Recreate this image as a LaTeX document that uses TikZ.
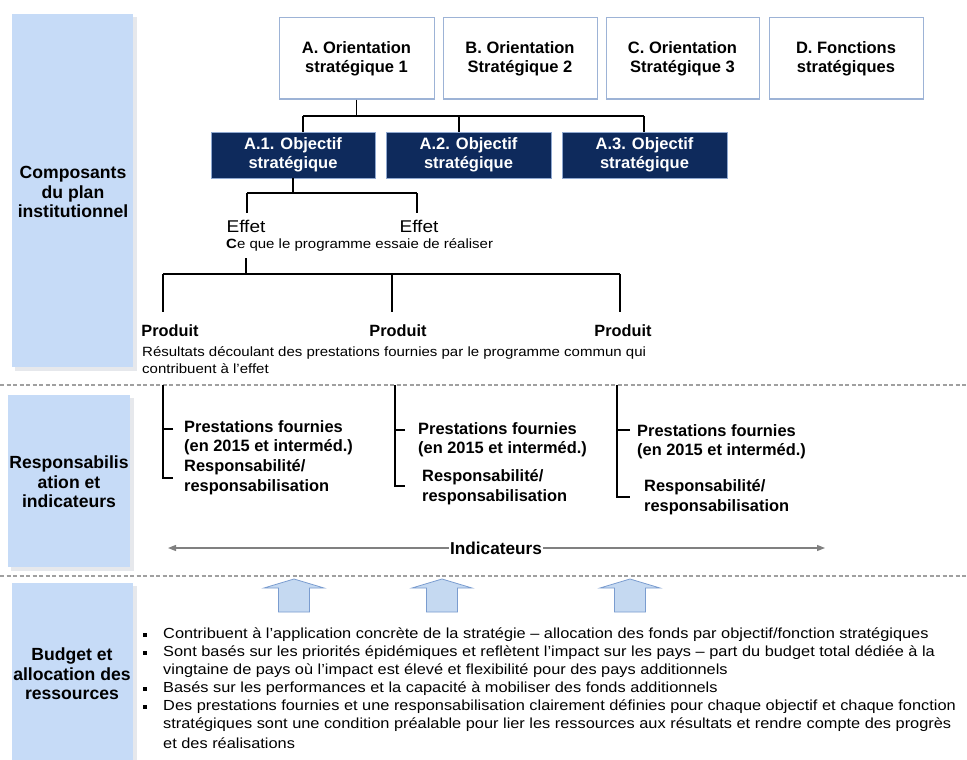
\documentclass[tikz,border=0pt]{standalone}
\usepackage{fontspec}
\setmainfont{Liberation Sans}
\newfontfamily\widefont[FakeStretch=1.12]{Liberation Sans}
\usetikzlibrary{arrows.meta}
\definecolor{panel}{HTML}{C6DBF7}
\definecolor{panelshadow}{HTML}{E6E8EC}
\definecolor{topborder}{HTML}{9DB3D6}
\definecolor{navy}{HTML}{0E2A5C}
\definecolor{navyborder}{HTML}{8FA8D0}
\definecolor{dashgray}{HTML}{A0A0A0}
\definecolor{indgray}{HTML}{808080}
\definecolor{arrowfill}{HTML}{C5D9F1}
\definecolor{arrowdraw}{HTML}{7A9CCF}
\begin{document}
\begin{tikzpicture}[x=1pt,y=-1pt,
  panelbox/.style={fill=panel, draw=none},
  shadowbox/.style={fill=panelshadow, draw=none},
  topbox/.style={draw=topborder, line width=1pt, fill=white, minimum height=81pt, inner sep=0pt,
    align=center, font=\fontsize{16.5}{19}\selectfont\bfseries},
  navybox/.style={fill=navy, draw=navyborder, line width=0.8pt, text=white, minimum height=46pt,
    inner sep=0pt, align=center, font=\fontsize{16.5}{19}\selectfont\bfseries},
  conn/.style={draw=black, line width=1.3pt},
  sidelbl/.style={align=center, inner sep=0pt, font=\fontsize{17.6}{19.5}\selectfont\bfseries},
  efftxt/.style={inner sep=0pt, font=\widefont\fontsize{17}{20}\selectfont},
  smalltxt/.style={inner sep=0pt, align=left, font=\widefont\fontsize{13.4}{17}\selectfont},
  prodtxt/.style={inner sep=0pt, font=\fontsize{16.3}{20}\selectfont\bfseries},
  indtxt/.style={inner sep=0pt, inner xsep=1pt, font=\fontsize{17.2}{20}\selectfont\bfseries},
  bracktxt/.style={inner sep=0pt, align=left, anchor=west, font=\fontsize{16.4}{19.5}\selectfont\bfseries},
  divider/.style={draw=dashgray, line width=1.3pt, dash pattern=on 4pt off 2.5pt},
  garrow/.style={draw=indgray, line width=1.3pt, -{Triangle[length=8pt,width=6pt]}},
  blockarrow/.style={fill=arrowfill, draw=arrowdraw, line width=0.8pt},
  bullettxt/.style={inner sep=0pt, anchor=west, font=\widefont\fontsize{14.6}{18}\selectfont},
  bulletmark/.style={fill=black, draw=none, minimum size=4pt, inner sep=0pt}
]
\useasboundingbox (0,0) rectangle (967,760);
\fill[white] (0,0) rectangle (967,760);

% left panels
\fill[shadowbox] (15,17) rectangle (137,371);
\fill[panelbox] (12,14) rectangle (133,367);
\fill[shadowbox] (11,398) rectangle (134,571);
\fill[panelbox] (8,395) rectangle (130,567);
\fill[shadowbox] (15,586) rectangle (137,770);
\fill[panelbox] (12,583) rectangle (133,770);

\node[sidelbl] (lab1) at (73,192) {Composants\\du plan\\institutionnel};
\node[sidelbl] (lab2) at (69,482) {Responsabilis\\ation et\\indicateurs};
\node[sidelbl] (lab3) at (72,674) {Budget et\\allocation des\\ressources};

% top boxes
\node[topbox, minimum width=155pt] (A) at (356.5,58.5) {A. Orientation\\stratégique 1};
\node[topbox, minimum width=154pt] (B) at (520,58.5) {B. Orientation\\Stratégique 2};
\node[topbox, minimum width=153pt] (C) at (682.5,58.5) {C. Orientation\\Stratégique 3};
\node[topbox, minimum width=154pt] (D) at (846,58.5) {D. Fonctions\\stratégiques};

% objective boxes
\node[navybox, minimum width=164pt] (A1) at (293,155) {A.1. Objectif\\stratégique};
\node[navybox, minimum width=165pt] (A2) at (468.5,155) {A.2. Objectif\\stratégique};
\node[navybox, minimum width=165pt] (A3) at (644.5,155) {A.3. Objectif\\stratégique};

% connectors top
\coordinate (hA1) at (303,116);
\coordinate (hA2) at (459,116);
\coordinate (hA3) at (644,116);
\draw[conn] (A.south) -- (A.south |- hA1);
\draw[conn] (hA1) -- (hA3);
\draw[conn] (hA1) -- (hA1 |- A1.north);
\draw[conn] (hA2) -- (hA2 |- A2.north);
\draw[conn] (hA3) -- (hA3 |- A3.north);

% effets
\node[efftxt] (E1) at (246,226) {Effet};
\node[efftxt] (E2) at (419,226) {Effet};
\node[smalltxt, anchor=west] (ceque) at (226,245) {\textbf{C}e que le programme essaie de réaliser};
\coordinate (hE1) at (247,193);
\coordinate (hE2) at (417,193);
\draw[conn] (A1.south) -- (A1.south |- hE1);
\draw[conn] (hE1) -- (hE2);
\draw[conn] (hE1) -- (247,213);
\draw[conn] (hE2) -- (417,213);

% produits
\node[prodtxt] (P1) at (170,331) {Produit};
\node[prodtxt] (P2) at (398,331) {Produit};
\node[prodtxt] (P3) at (623,331) {Produit};
\node[smalltxt, anchor=north west] (res) at (142,346) {Résultats découlant des prestations fournies par le programme commun qui\\contribuent à l’effet};
\coordinate (ce) at (246,258);
\coordinate (hP1) at (163,274);
\coordinate (hP2) at (392,274);
\coordinate (hP3) at (620,274);
\draw[conn] (ce) -- (ce |- hP1);
\draw[conn] (hP1) -- (hP3);
\draw[conn] (hP1) -- (163,312);
\draw[conn] (hP2) -- (392,312);
\draw[conn] (hP3) -- (620,312);

% dividers
\draw[divider] (0,385) -- (967,385);
\draw[divider] (0,576) -- (967,576);

% brackets
\draw[conn] (173,429) -- (163,429);
\draw[conn] (163,385) -- (163,478) -- (173,478);
\draw[conn] (405,430) -- (395,430);
\draw[conn] (395,385) -- (395,486) -- (405,486);
\draw[conn] (630,430) -- (617,430);
\draw[conn] (617,385) -- (617,497) -- (630,497);

\node[bracktxt] (pf1) at (184,438) {Prestations fournies\\(en 2015 et interméd.)};
\node[bracktxt] (rs1) at (184,477) {Responsabilité/\\responsabilisation};
\node[bracktxt] (pf2) at (418,440) {Prestations fournies\\(en 2015 et interméd.)};
\node[bracktxt] (rs2) at (422,487) {Responsabilité/\\responsabilisation};
\node[bracktxt] (pf3) at (637,442) {Prestations fournies\\(en 2015 et interméd.)};
\node[bracktxt] (rs3) at (644,497) {Responsabilité/\\responsabilisation};

% indicateurs
\node[indtxt] (ind) at (496,548) {Indicateurs};
\coordinate (indL) at (168,548);
\coordinate (indR) at (825,548);
\draw[garrow] (ind.west) -- (indL);
\draw[garrow] (ind.east) -- (indR);

% block arrows
\foreach \cx in {294,442,630}{
  \draw[blockarrow] (\cx-15.5,612) -- (\cx-15.5,588) -- (\cx-30,588) -- (\cx,579)
    -- (\cx+30,588) -- (\cx+15.5,588) -- (\cx+15.5,612) -- cycle;
}

% bullets
\node[bulletmark] (m1) at (144.5,635) {};
\node[bulletmark] (m2) at (144.5,653) {};
\node[bulletmark] (m4) at (144.5,689) {};
\node[bulletmark] (m5) at (144.5,707) {};
\node[bullettxt] (t1) at (163,635) {Contribuent à l’application concrète de la stratégie – allocation des fonds par objectif/fonction stratégiques};
\node[bullettxt] (t2) at (163,653) {Sont basés sur les priorités épidémiques et reflètent l’impact sur les pays – part du budget total dédiée à la};
\node[bullettxt] (t3) at (163,671) {vingtaine de pays où l’impact est élevé et flexibilité pour des pays additionnels};
\node[bullettxt] (t4) at (163,689) {Basés sur les performances et la capacité à mobiliser des fonds additionnels};
\node[bullettxt] (t5) at (163,707) {Des prestations fournies et une responsabilisation clairement définies pour chaque objectif et chaque fonction};
\node[bullettxt] (t6) at (163,725) {stratégiques sont une condition préalable pour lier les ressources aux résultats et rendre compte des progrès};
\node[bullettxt] (t7) at (163,743) {et des réalisations};
\end{tikzpicture}
\end{document}
